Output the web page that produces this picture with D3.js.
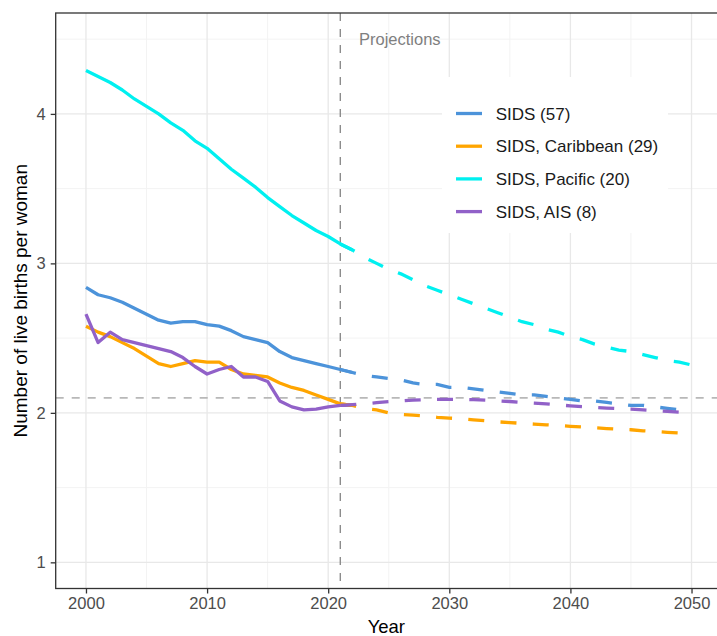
<!DOCTYPE html>
<html>
<head>
<meta charset="utf-8">
<script src="https://cdn.jsdelivr.net/npm/d3@7"></script>
<style>
  html, body { margin: 0; padding: 0; background: #fff; }
  svg { display: block; font-family: "Liberation Sans", Arial, sans-serif; }
</style>
</head>
<body>
<svg id="chart" width="717" height="636"></svg>
<script>
// ---------- data ----------
const histYears = [2000,2001,2002,2003,2004,2005,2006,2007,2008,2009,2010,2011,2012,2013,2014,2015,2016,2017,2018,2019,2020,2021,2022];
const projYears = [2021,2022,2023,2024,2025,2026,2027,2028,2029,2030,2031,2032,2033,2034,2035,2036,2037,2038,2039,2040,2041,2042,2043,2044,2045,2046,2047,2048,2049,2050];

const sidsHist      = [2.84,2.79,2.77,2.74,2.70,2.66,2.62,2.60,2.61,2.61,2.59,2.58,2.55,2.51,2.49,2.47,2.41,2.37,2.35,2.33,2.31,2.29,2.27];
const caribHist     = [2.58,2.54,2.51,2.47,2.43,2.38,2.33,2.31,2.33,2.35,2.34,2.34,2.29,2.26,2.25,2.24,2.20,2.17,2.15,2.12,2.09,2.06,2.05];
const pacificHist   = [4.29,4.25,4.21,4.16,4.10,4.05,4.00,3.94,3.89,3.82,3.77,3.70,3.63,3.57,3.51,3.44,3.38,3.32,3.27,3.22,3.18,3.13,3.09];
const aisHist       = [2.66,2.47,2.54,2.49,2.47,2.45,2.43,2.41,2.37,2.31,2.26,2.29,2.31,2.24,2.24,2.21,2.08,2.04,2.02,2.025,2.04,2.05,2.05];

const sidsProj      = [2.29,2.27,2.25,2.24,2.23,2.22,2.20,2.19,2.19,2.17,2.17,2.16,2.15,2.14,2.13,2.12,2.12,2.11,2.10,2.09,2.08,2.08,2.07,2.06,2.05,2.05,2.04,2.03,2.02,2.02];
const caribProj     = [2.06,2.05,2.03,2.02,2.00,1.99,1.985,1.98,1.97,1.965,1.96,1.953,1.947,1.94,1.935,1.93,1.925,1.92,1.915,1.91,1.905,1.90,1.895,1.89,1.887,1.88,1.875,1.87,1.865,1.86];
const pacificProj   = [3.13,3.09,3.04,3.00,2.96,2.93,2.89,2.85,2.82,2.79,2.76,2.73,2.70,2.67,2.64,2.61,2.59,2.56,2.54,2.51,2.49,2.46,2.44,2.42,2.41,2.39,2.37,2.35,2.34,2.32];
const aisProj       = [2.05,2.055,2.06,2.068,2.075,2.08,2.085,2.088,2.09,2.09,2.09,2.088,2.085,2.08,2.076,2.07,2.065,2.06,2.053,2.047,2.042,2.037,2.032,2.028,2.025,2.02,2.015,2.01,2.005,2.00];

const seriesNames  = ["SIDS (57)", "SIDS, Caribbean (29)", "SIDS, Pacific (20)", "SIDS, AIS (8)"];
const seriesColors = ["#4C93DA", "#FFA500", "#00F0F0", "#9161C8"];

const xTicks = [2000, 2010, 2020, 2030, 2040, 2050];
const xMinor = [2005, 2015, 2025, 2035, 2045];
const yTicks = [1, 2, 3, 4];
const yMinor = [1.5, 2.5, 3.5, 4.5];

const projectionStart = 2021;
const replacementLevel = 2.1;
const projectionLabel = "Projections";
const xTitle = "Year";
const yTitle = "Number of live births per woman";

// ---------- layout ----------
const svg = d3.select("#chart");
const panel = { left: 55.7, top: 13, right: 721.8, bottom: 588.5 };

const x = d3.scaleLinear().domain([1997.5, 2052.5]).range([panel.left, panel.right]);
const y = d3.scaleLinear().domain([0.825, 4.675]).range([panel.bottom, panel.top]);

// panel background
svg.append("rect")
  .attr("x", panel.left).attr("y", panel.top)
  .attr("width", panel.right - panel.left).attr("height", panel.bottom - panel.top)
  .attr("fill", "#fff");

// grid
const grid = svg.append("g");
grid.selectAll(".xminor").data(xMinor).join("line")
  .attr("x1", d => x(d)).attr("x2", d => x(d))
  .attr("y1", panel.top).attr("y2", panel.bottom)
  .attr("stroke", "#F3F3F3").attr("stroke-width", 1);
grid.selectAll(".yminor").data(yMinor).join("line")
  .attr("y1", d => y(d)).attr("y2", d => y(d))
  .attr("x1", panel.left).attr("x2", panel.right)
  .attr("stroke", "#F3F3F3").attr("stroke-width", 1);
grid.selectAll(".xmajor").data(xTicks).join("line")
  .attr("x1", d => x(d)).attr("x2", d => x(d))
  .attr("y1", panel.top).attr("y2", panel.bottom)
  .attr("stroke", "#E8E8E8").attr("stroke-width", 1.3);
grid.selectAll(".ymajor").data(yTicks).join("line")
  .attr("y1", d => y(d)).attr("y2", d => y(d))
  .attr("x1", panel.left).attr("x2", panel.right)
  .attr("stroke", "#E8E8E8").attr("stroke-width", 1.3);

// reference lines
svg.append("line")
  .attr("x1", panel.left).attr("x2", panel.right)
  .attr("y1", y(replacementLevel)).attr("y2", y(replacementLevel))
  .attr("stroke", "#B8B8B8").attr("stroke-width", 1.6)
  .attr("stroke-dasharray", "8,8");
svg.append("line")
  .attr("x1", x(projectionStart)).attr("x2", x(projectionStart))
  .attr("y1", panel.top).attr("y2", panel.bottom)
  .attr("stroke", "#8C8C8C").attr("stroke-width", 1.4)
  .attr("stroke-dasharray", "8,8");

svg.append("text")
  .attr("x", 359).attr("y", 45)
  .attr("font-size", "16.5px").attr("fill", "#7F7F7F")
  .text(projectionLabel);

// series
const hist = [sidsHist, caribHist, pacificHist, aisHist];
const proj = [sidsProj, caribProj, pacificProj, aisProj];
const line = d3.line().x(d => x(d[0])).y(d => y(d[1]));

hist.forEach((vals, i) => {
  svg.append("path")
    .datum(histYears.map((yr, j) => [yr, vals[j]]))
    .attr("d", line)
    .attr("fill", "none").attr("stroke", seriesColors[i])
    .attr("stroke-width", 3.3).attr("stroke-linejoin", "round");
});
proj.forEach((vals, i) => {
  svg.append("path")
    .datum(projYears.map((yr, j) => [yr, vals[j]]))
    .attr("d", line)
    .attr("fill", "none").attr("stroke", seriesColors[i])
    .attr("stroke-width", 3.3).attr("stroke-dasharray", "16,16.3");
});

// legend
const lg = svg.append("g");
lg.append("rect").attr("x", 442).attr("y", 77).attr("width", 226).attr("height", 156).attr("fill", "#fff");
seriesNames.forEach((name, i) => {
  const cy = 113.5 + i * 32.7;
  lg.append("line").attr("x1", 456).attr("x2", 482).attr("y1", cy).attr("y2", cy)
    .attr("stroke", seriesColors[i]).attr("stroke-width", 3.3);
  lg.append("text").attr("x", 495.7).attr("y", cy).attr("dy", "0.36em")
    .attr("font-size", "17px").attr("fill", "#1a1a1a").text(name);
});

// panel border
svg.append("rect")
  .attr("x", panel.left).attr("y", panel.top)
  .attr("width", panel.right - panel.left).attr("height", panel.bottom - panel.top)
  .attr("fill", "none").attr("stroke", "#333").attr("stroke-width", 1.3);

// axes
const xAxis = svg.append("g").attr("transform", `translate(0,${panel.bottom})`)
  .call(d3.axisBottom(x).tickValues(xTicks).tickFormat(d3.format("d")).tickSize(5).tickPadding(4));
const yAxis = svg.append("g").attr("transform", `translate(${panel.left},0)`)
  .call(d3.axisLeft(y).tickValues(yTicks).tickFormat(d3.format("d")).tickSize(5).tickPadding(5));
[xAxis, yAxis].forEach(a => {
  a.select(".domain").remove();
  a.selectAll(".tick line").attr("stroke", "#333").attr("stroke-width", 1.3);
  a.selectAll(".tick text").attr("fill", "#4D4D4D").attr("font-size", "16.5px")
    .attr("font-family", "'Liberation Sans', Arial, sans-serif");
});

// axis titles
svg.append("text")
  .attr("x", (panel.left + 717) / 2 + 0).attr("y", 633)
  .attr("text-anchor", "middle").attr("font-size", "18.5px").attr("fill", "#000")
  .text(xTitle);
svg.append("text")
  .attr("transform", `translate(27,${(panel.top + panel.bottom) / 2}) rotate(-90)`)
  .attr("text-anchor", "middle").attr("font-size", "19px").attr("fill", "#000")
  .text(yTitle);
</script>
</body>
</html>
